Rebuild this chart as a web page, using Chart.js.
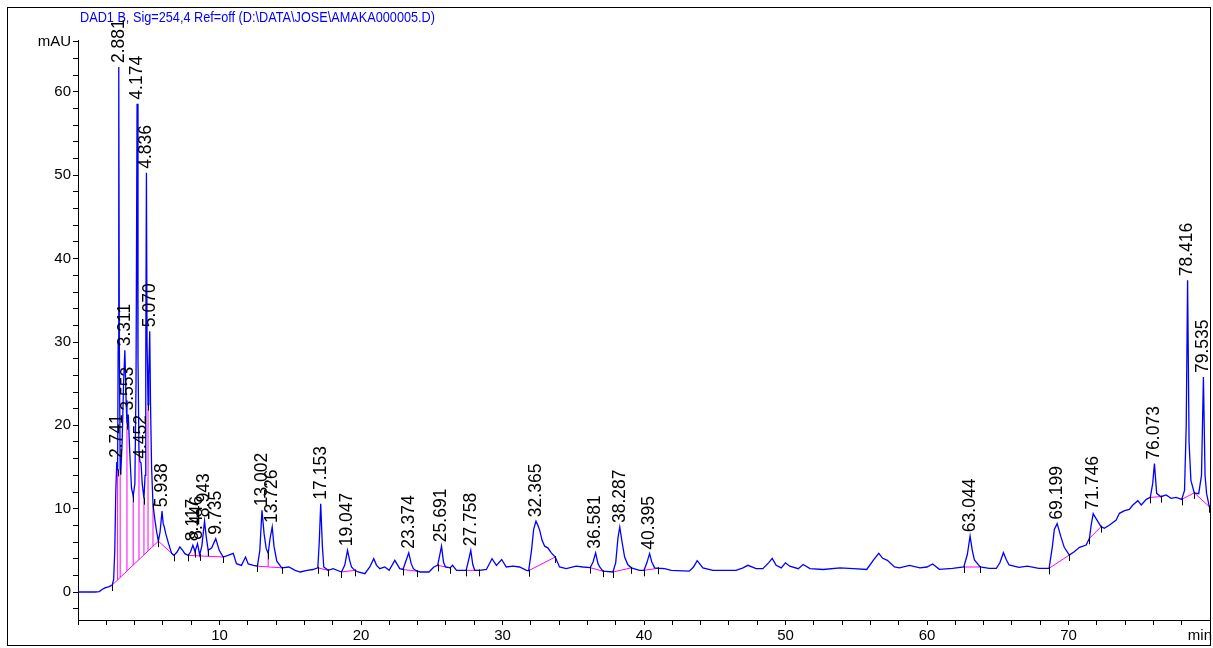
<!DOCTYPE html>
<html>
<head>
<meta charset="utf-8">
<style>
  html, body { margin: 0; padding: 0; background: #fff; }
  #wrap { width: 1213px; height: 648px; }
</style>
<script src="https://cdn.jsdelivr.net/npm/chart.js@4.4.1/dist/chart.umd.min.js"></script>
</head>
<body>
<div id="wrap"><canvas id="chrom" width="1213" height="648"></canvas></div>
<script>
// signal header
const signalTitle = "DAD1 B, Sig=254,4 Ref=off (D:\\DATA\\JOSE\\AMAKA000005.D)";

// trace: retention time (min) and absorbance (mAU)
const retentionTimes = [
  0, 1.2, 1.5, 1.7, 1.9, 2.2, 2.42, 2.52, 2.6, 2.67,
  2.741, 2.8, 2.84, 2.881, 2.92, 2.98, 3.03, 3.12, 3.22, 3.311,
  3.4, 3.46, 3.553, 3.65, 3.78, 3.9, 4.02, 4.1, 4.174, 4.24,
  4.31, 4.38, 4.452, 4.54, 4.66, 4.74, 4.79, 4.836, 4.88, 4.95,
  5.0, 5.07, 5.13, 5.2, 5.3, 5.44, 5.56, 5.68, 5.8, 5.938,
  6.02, 6.1, 6.2, 6.4, 6.62, 6.78, 7.0, 7.2, 7.4, 7.55,
  7.79, 7.95, 8.117, 8.27, 8.446, 8.6, 8.75, 8.943, 9.05, 9.2,
  9.45, 9.735, 9.98, 10.26, 10.6, 10.97, 11.2, 11.55, 11.84, 12.03,
  12.4, 12.68, 12.85, 13.002, 13.15, 13.3, 13.44, 13.58, 13.726, 13.85,
  14.05, 14.4, 14.9, 15.35, 15.7, 16.2, 16.6, 16.95, 17.05, 17.153,
  17.27, 17.37, 17.68, 18.03, 18.62, 18.85, 19.047, 19.2, 19.33, 19.56,
  19.8, 20.27, 20.62, 20.9, 21.1, 21.33, 21.68, 21.99, 22.39, 22.74,
  22.97, 23.15, 23.374, 23.55, 23.7, 23.96, 24.2, 24.8, 25.15, 25.42,
  25.55, 25.691, 25.83, 25.97, 26.3, 26.47, 26.75, 27.2, 27.43, 27.6,
  27.758, 27.9, 28.04, 28.37, 28.86, 29.26, 29.57, 29.94, 30.27, 30.74,
  31.2, 31.7, 31.85, 32.05, 32.2, 32.365, 32.5, 32.63, 32.8, 32.98,
  33.2, 33.45, 33.73, 34.03, 34.5, 35.2, 35.7, 36.2, 36.4, 36.581,
  36.75, 36.87, 37.1, 37.8, 38.0, 38.16, 38.287, 38.45, 38.63, 38.85,
  39.1, 39.69, 40.0, 40.2, 40.395, 40.55, 40.75, 41.0, 41.46, 41.93,
  43.2, 43.5, 43.76, 44.16, 44.87, 45.6, 46.5, 47.0, 47.34, 47.93,
  48.4, 48.8, 49.06, 49.34, 49.7, 50.0, 50.3, 50.9, 51.25, 51.73,
  52.67, 53.85, 54.8, 55.74, 56.2, 56.59, 56.87, 57.2, 57.7, 58.05,
  58.76, 59.5, 60.0, 60.4, 60.87, 61.81, 62.6, 62.85, 63.044, 63.2,
  63.35, 63.76, 64.4, 64.9, 65.15, 65.4, 65.6, 65.8, 66.5, 67.1,
  67.9, 68.63, 68.86, 69.0, 69.199, 69.46, 69.7, 70.06, 70.4, 70.78,
  71.25, 71.48, 71.6, 71.746, 71.94, 72.3, 72.53, 72.9, 73.37, 73.6,
  73.96, 74.3, 74.55, 74.9, 75.14, 75.5, 75.78, 75.95, 76.073, 76.23,
  76.53, 76.9, 77.25, 77.6, 78.0, 78.2, 78.32, 78.416, 78.52, 78.65,
  78.89, 79.2, 79.4, 79.535, 79.65, 79.76, 79.95, 80
];
const absorbance = [
  0, 0, 0.05, 0.3, 0.5, 0.65, 0.84, 1.5, 5, 12,
  15.6, 14.6, 30, 63, 30, 14.8, 14.5, 18, 25, 29,
  23, 20.2, 21.3, 17, 12.5, 11.5, 13, 25, 58.6, 28,
  16.8, 15.6, 15.5, 13, 11.2, 14, 28, 50.3, 30, 22.5,
  26, 31.3, 22, 15, 10.5, 8.6, 7.2, 6.1, 7.2, 9.7,
  8.2, 7.8, 7.0, 5.8, 4.64, 4.4, 4.8, 5.4, 5.0, 4.6,
  4.4, 4.8, 5.6, 4.85, 5.8, 4.45, 5.5, 8.5, 6.8, 5.0,
  5.3, 6.4, 5.0, 4.2, 4.4, 4.64, 3.4, 3.2, 4.2, 3.36,
  3.2, 3.1, 5, 9.8, 7, 5.2, 4.64, 6.5, 7.8, 5.5,
  3.7, 2.9, 3.0, 2.6, 2.4, 2.6, 2.7, 2.9, 6, 10.6,
  5.5, 3.0, 2.6, 2.8, 2.4, 3.2, 5.0, 3.8, 3.0, 2.6,
  2.4, 2.2, 3.0, 4.0, 3.2, 2.8, 3.0, 2.6, 3.8, 2.8,
  2.7, 3.6, 4.7, 3.4, 2.8, 2.5, 2.4, 2.4, 3.0, 3.2,
  4.3, 5.5, 3.6, 3.0, 2.9, 3.2, 2.6, 2.6, 2.6, 3.8,
  5.0, 3.3, 2.6, 2.6, 2.7, 4.0, 3.2, 3.9, 3.0, 3.1,
  3.0, 2.6, 2.56, 5.0, 7.5, 8.5, 8.0, 7.4, 6.2, 5.5,
  5.3, 4.7, 4.2, 3.0, 2.8, 3.1, 3.0, 2.92, 3.6, 4.7,
  3.4, 3.0, 2.5, 2.4, 3.5, 6.5, 7.8, 6.0, 4.2, 3.3,
  2.9, 2.6, 2.6, 3.5, 4.6, 3.6, 2.9, 2.85, 2.8, 2.6,
  2.5, 3.0, 3.76, 2.9, 2.6, 2.6, 2.6, 2.9, 3.2, 2.8,
  2.8, 3.5, 4.04, 3.2, 2.9, 3.5, 3.1, 2.8, 3.3, 2.8,
  2.7, 2.9, 2.8, 2.7, 3.8, 4.64, 4.04, 3.8, 3.0, 2.9,
  3.2, 2.9, 3.0, 3.36, 2.72, 2.84, 3.0, 4.5, 6.7, 5.0,
  3.84, 3.0, 2.84, 2.84, 3.5, 4.72, 3.9, 3.24, 2.96, 3.1,
  2.84, 2.84, 5.44, 7.5, 8.2, 6.64, 5.36, 4.44, 4.84, 5.36,
  5.64, 6.44, 8.0, 9.4, 8.84, 7.84, 7.64, 8.04, 8.64, 9.44,
  9.76, 9.92, 10.44, 10.96, 10.44, 11.12, 11.36, 13, 15.4, 11.84,
  11.44, 11.64, 11.24, 11.36, 11.12, 12.2, 20, 37.4, 18, 13.4,
  11.9, 11.8, 14, 25.8, 14, 11.8, 10.24, 10
];

// integrated peaks: label (retention time) and apex height
const peakLabels = ["2.741", "2.881", "3.311", "3.553", "4.174", "4.452", "4.836", "5.070",
  "5.938", "8.117", "8.446", "8.943", "9.735", "13.002", "13.726", "17.153", "19.047",
  "23.374", "25.691", "27.758", "32.365", "36.581", "38.287", "40.395", "63.044",
  "69.199", "71.746", "76.073", "78.416", "79.535"];
const peakHeights = [15.6, 63, 29, 21.3, 58.6, 15.5, 50.3, 31.3,
  9.7, 5.6, 5.8, 8.5, 6.4, 9.8, 7.8, 10.6, 5.0,
  4.7, 5.5, 5.0, 8.5, 4.7, 7.8, 4.6, 6.7,
  8.2, 9.4, 15.4, 37.4, 25.8];

// integration baselines (start / end times) and drop lines
const baselineStarts = [2.42, 5.68, 7.79, 12.68, 16.95, 18.62, 22.97, 25.42, 27.43, 31.85, 36.2, 37.8, 40.0, 62.6, 68.63, 71.48, 75.78, 78.0, 78.89];
const baselineEnds   = [5.68, 6.78, 10.26, 14.4, 17.68, 19.56, 23.96, 26.3, 28.37, 33.73, 37.1, 39.1, 41.0, 63.76, 70.06, 72.3, 76.53, 78.89, 79.95];
const dropTimes = [2.8, 2.98, 3.46, 3.9, 4.31, 4.66, 4.95, 5.3, 8.27, 8.6, 9.2, 13.44];

// axis labels
const xLabelValues = [10, 20, 30, 40, 50, 60, 70];
const yLabelValues = [0, 10, 20, 30, 40, 50, 60];

function traceAt(t) {
  for (let i = 1; i < retentionTimes.length; i++) {
    if (retentionTimes[i] >= t) {
      const t0 = retentionTimes[i - 1], t1 = retentionTimes[i];
      const f = (t - t0) / (t1 - t0);
      return absorbance[i - 1] + f * (absorbance[i] - absorbance[i - 1]);
    }
  }
  return absorbance[absorbance.length - 1];
}

function baselineAt(t) {
  for (let i = 0; i < baselineStarts.length; i++) {
    const s = baselineStarts[i], e = baselineEnds[i];
    if (t >= s && t <= e) {
      const vs = traceAt(s), ve = traceAt(e);
      return vs + (t - s) / (e - s) * (ve - vs);
    }
  }
  return traceAt(t);
}

const traceData = retentionTimes.map((t, i) => ({ x: t, y: absorbance[i] }));

const baselineData = [];
baselineStarts.forEach((s, i) => {
  const e = baselineEnds[i];
  baselineData.push({ x: s, y: traceAt(s) }, { x: e, y: traceAt(e) }, { x: e, y: null });
});

const dropData = [];
dropTimes.forEach(t => {
  dropData.push({ x: t, y: baselineAt(t) }, { x: t, y: traceAt(t) }, { x: t, y: null });
});

const eventTimes = [...new Set([...baselineStarts, ...baselineEnds, ...dropTimes])];

const FONT = '"Liberation Sans", Arial, sans-serif';
Chart.defaults.font.family = FONT;
Chart.defaults.color = '#000';

const decorations = {
  id: 'decorations',
  afterDraw(chart) {
    const ctx = chart.ctx;
    const xs = chart.scales.x, ys = chart.scales.y;
    ctx.save();

    // outer frame
    ctx.strokeStyle = '#000';
    ctx.lineWidth = 1;
    ctx.strokeRect(7.5, 7.5, 1203, 638);

    // header
    ctx.fillStyle = '#0000ff';
    ctx.font = '14.5px ' + FONT;
    ctx.textBaseline = 'middle';
    ctx.textAlign = 'left';
    ctx.fillText(signalTitle, 80, 18, 355);

    // x unit
    ctx.fillStyle = '#000';
    ctx.font = '15px ' + FONT;
    ctx.textAlign = 'right';
    ctx.textBaseline = 'top';
    ctx.fillText('min', 1212, 628);

    // integration event marks
    ctx.beginPath();
    eventTimes.forEach(t => {
      const px = Math.round(xs.getPixelForValue(t)) + 0.5;
      const py = ys.getPixelForValue(traceAt(t));
      ctx.moveTo(px, py - 1);
      ctx.lineTo(px, py + 6);
    });
    ctx.strokeStyle = '#000';
    ctx.stroke();

    // peak retention time labels
    ctx.font = '17.5px ' + FONT;
    ctx.textAlign = 'left';
    ctx.textBaseline = 'middle';
    peakLabels.forEach((lab, i) => {
      const px = xs.getPixelForValue(parseFloat(lab));
      const py = ys.getPixelForValue(peakHeights[i]) - 4;
      ctx.save();
      ctx.translate(px, py);
      ctx.rotate(-Math.PI / 2);
      ctx.fillText(lab, 0, 0);
      ctx.restore();
    });
    ctx.restore();
  }
};

new Chart(document.getElementById('chrom'), {
  type: 'line',
  data: {
    datasets: [
      {
        data: traceData,
        borderColor: '#0000ff',
        borderWidth: 1.3,
        pointRadius: 0,
        tension: 0,
        order: 0
      },
      {
        data: baselineData,
        borderColor: '#ff00ff',
        borderWidth: 1,
        pointRadius: 0,
        spanGaps: false,
        order: 1
      },
      {
        data: dropData,
        borderColor: '#ff00ff',
        borderWidth: 1,
        pointRadius: 0,
        spanGaps: false,
        order: 2
      }
    ]
  },
  options: {
    responsive: false,
    animation: false,
    devicePixelRatio: 1,
    layout: { padding: { left: 0, right: 3, top: 40, bottom: 0 } },
    plugins: {
      legend: { display: false },
      tooltip: { enabled: false }
    },
    scales: {
      x: {
        type: 'linear',
        min: 0,
        max: 80,
        afterFit: s => { s.height = 28; },
        grid: { drawOnChartArea: false, drawTicks: true, tickLength: 5, color: '#000' },
        border: { color: '#000', width: 1 },
        ticks: {
          stepSize: 2,
          includeBounds: false,
          autoSkip: false,
          maxRotation: 0,
          padding: 2,
          font: { size: 15 },
          callback: v => xLabelValues.includes(v) ? String(v) : ''
        }
      },
      y: {
        min: -3.36,
        max: 66.24,
        afterFit: s => { s.width = 78; },
        grid: { drawOnChartArea: false, drawTicks: true, tickLength: 5, color: '#000' },
        border: { color: '#000', width: 1 },
        ticks: {
          stepSize: 2,
          includeBounds: false,
          autoSkip: false,
          padding: 2,
          font: { size: 15 },
          callback: v => v === 66 ? 'mAU' : (yLabelValues.includes(v) ? String(v) : '')
        }
      }
    }
  },
  plugins: [decorations]
});
</script>
</body>
</html>
